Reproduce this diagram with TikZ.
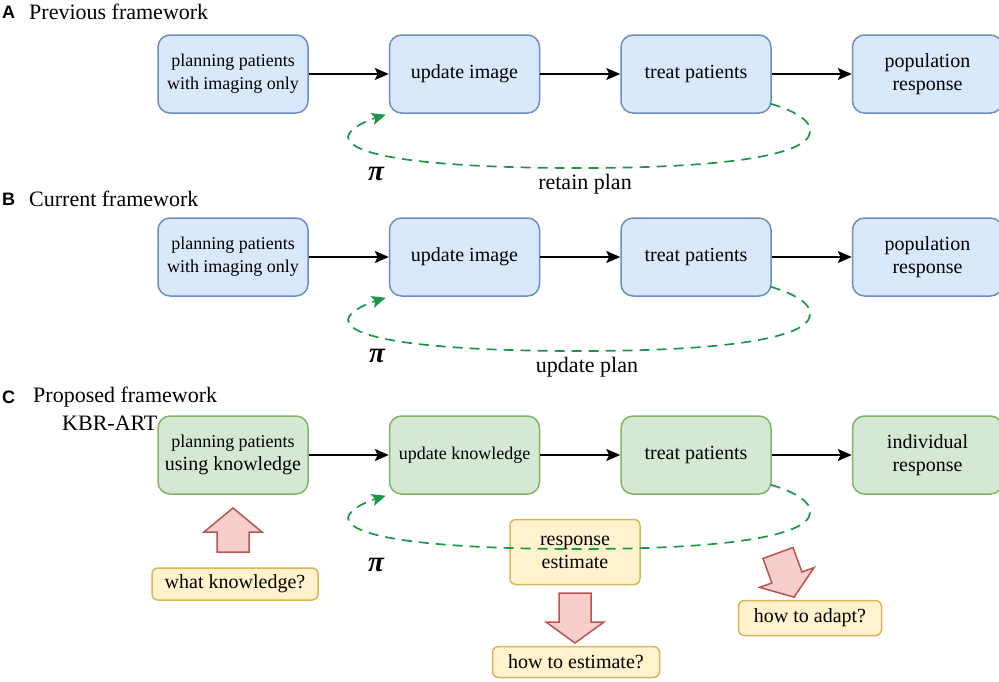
\documentclass[tikz,border=0pt]{standalone}
\usepackage{fontspec}
\setmainfont{Liberation Serif}
\setsansfont{Liberation Sans}
\usetikzlibrary{positioning}
\usetikzlibrary{arrows.meta}
\definecolor{bluefill}{HTML}{DAE8FC}
\definecolor{bluedraw}{HTML}{6C8EBF}
\definecolor{greenfill}{HTML}{D5E8D4}
\definecolor{greendraw}{HTML}{82B366}
\definecolor{notefill}{HTML}{FFF2CC}
\definecolor{notedraw}{HTML}{D6B656}
\definecolor{redfill}{HTML}{F8CECC}
\definecolor{reddraw}{HTML}{B85450}
\definecolor{loopgreen}{HTML}{1A9646}
\newcommand{\titlesize}{\fontsize{22}{25}\selectfont}
\newcommand{\boxsize}{\fontsize{20}{23}\selectfont}
\newcommand{\smallsize}{\fontsize{18}{21}\selectfont}
\newcommand{\plansize}{\fontsize{22}{25}\selectfont}
% red block arrow: base, angle, shaft length, head length
\newcommand{\bigarrow}[4]{%
    \begin{scope}[shift={#1}, rotate=#2]
        \path[big arrow] (-16,0) -- (16,0) -- (16,#3) -- (29,#3)
            -- (0,{#3+#4}) -- (-29,#3) -- (-16,#3) -- cycle;
    \end{scope}}
\tikzset{node distance=80pt,
    stage/.style={
        rounded corners=12pt,
        line width=1.5pt,
        minimum width=150pt,
        minimum height=78pt,
        align=center,
        inner sep=2pt,
        font=\boxsize},
    blue stage/.style={stage, draw=bluedraw, fill=bluefill},
    green stage/.style={stage, draw=greendraw, fill=greenfill},
    question/.style={
        rounded corners=6pt,
        line width=1.5pt,
        draw=notedraw,
        fill=notefill,
        align=center,
        inner sep=0pt,
        font=\boxsize},
    panel/.style={inner sep=0pt, anchor=west, font=\sffamily\bfseries\fontsize{18}{20}\selectfont},
    heading/.style={inner sep=0pt, anchor=west, font=\titlesize},
    policy/.style={inner sep=0pt, font=\fontsize{29}{31}\selectfont\bfseries\itshape},
    plan text/.style={inner sep=0pt, font=\plansize},
    big arrow/.style={draw=reddraw, fill=redfill, line width=1.5pt},
    plan loop/.style={
        draw=loopgreen,
        line width=1.7pt,
        dash pattern=on 10pt off 7pt,
        -{Stealth[length=14pt,width=12pt,inset=3pt]}},
    every edge/.style={
        draw,
        -{Stealth[length=14pt,width=12pt,inset=3pt]},
        line width=1.6pt}}

\begin{document}
\begin{tikzpicture}[x=1pt, y=-1pt]
        \useasboundingbox (0,0) rectangle (999,681);

        % A
        \node[panel] (la) at (2,12) {A};
        \node[heading] (ha) at (29,12) {Previous framework};
        \node[blue stage] (p1) at (233,74) {\smallsize planning patients\\ \smallsize with imaging only};
        \node[blue stage, right=of p1] (u1) {update image};
        \node[blue stage, right=of u1] (t1) {treat patients};
        \node[blue stage, right=of t1] (r1) {population\\ response};
        \draw (p1) edge (u1) (u1) edge (t1) (t1) edge (r1);
        \draw[plan loop] ([xshift=-1pt,yshift=10pt]t1.south east)
            .. controls (795,111) and (812,121) .. (810,132)
            .. controls (808,156) and (720,168) .. (580,168)
            .. controls (450,168) and (350,159) .. (348,137)
            .. controls (349,127) and (372,119) .. ([xshift=-3pt,yshift=-1pt]u1.south west);
        \node[policy] (pi1) at (376,174) {π};
        \node[plan text] (k1) at (585,184) {retain plan};

        % B
        \node[panel] (lb) at (2,199) {B};
        \node[heading] (hb) at (29,199) {Current framework};
        \node[blue stage] (p2) at (233,257) {\smallsize planning patients\\ \smallsize with imaging only};
        \node[blue stage, right=of p2] (u2) {update image};
        \node[blue stage, right=of u2] (t2) {treat patients};
        \node[blue stage, right=of t2] (r2) {population\\ response};
        \draw (p2) edge (u2) (u2) edge (t2) (t2) edge (r2);
        \draw[plan loop] ([xshift=-1pt,yshift=10pt]t2.south east)
            .. controls (795,294) and (812,304) .. (810,315)
            .. controls (808,339) and (720,351) .. (580,351)
            .. controls (450,351) and (350,342) .. (348,320)
            .. controls (349,310) and (372,302) .. ([xshift=-3pt,yshift=-1pt]u2.south west);
        \node[policy] (pi2) at (377,356) {π};
        \node[plan text] (k2) at (587,367) {update plan};

        % C
        \node[panel] (lc) at (2,397) {C};
        \node[heading] (hc) at (33,397) {Proposed framework};
        \node[heading] (kbr) at (62,423) {KBR-ART};
        \node[green stage] (p3) at (233,455) {\smallsize planning patients\\ using knowledge};
        \node[green stage, right=of p3] (u3) {\smallsize update knowledge};
        \node[green stage, right=of u3] (t3) {treat patients};
        \node[green stage, right=of t3] (r3) {individual\\ response};
        \draw (p3) edge (u3) (u3) edge (t3) (t3) edge (r3);
        \node[question, minimum width=130pt, minimum height=65pt] (est) at (575,552) {response\\ estimate};
        \draw[plan loop] ([xshift=-1pt,yshift=10pt]t3.south east)
            .. controls (795,492) and (812,502) .. (810,513)
            .. controls (808,537) and (720,549) .. (580,549)
            .. controls (450,549) and (350,540) .. (348,518)
            .. controls (349,508) and (372,500) .. ([xshift=-3pt,yshift=-1pt]u3.south west);
        \node[policy] (pi3) at (376,565) {π};

        \node[question, minimum width=166pt, minimum height=32pt] (q1) at (235,584) {what knowledge?};
        \node[question, minimum width=167pt, minimum height=31pt] (q2) at (576,662) {how to estimate?};
        \node[question, minimum width=143pt, minimum height=35pt] (q3) at (810,618) {how to adapt?};
        \bigarrow{(233,552)}{180}{20}{24}
        \bigarrow{(575,593)}{0}{29}{21}
        \bigarrow{(778,553)}{20}{26}{21}
\end{tikzpicture}
\end{document}
